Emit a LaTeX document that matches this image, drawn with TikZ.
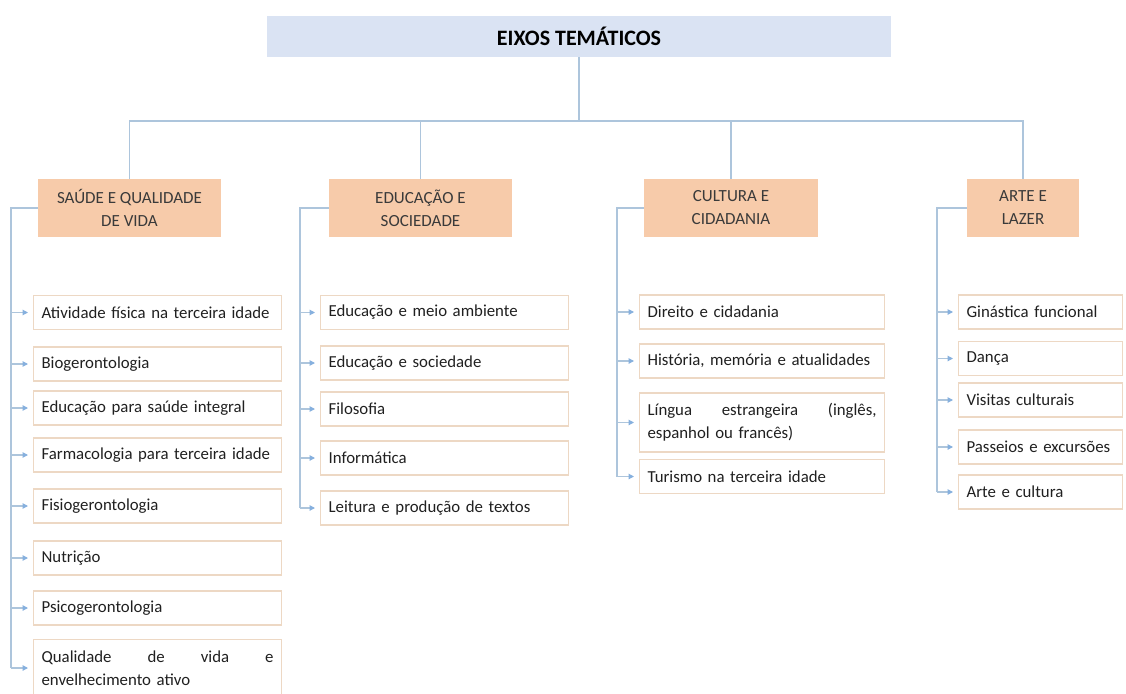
\documentclass[tikz,border=0pt]{standalone}
\usepackage{fontspec}
\setmainfont{Carlito}
\usetikzlibrary{arrows.meta}
\definecolor{connc}{HTML}{ADC5DC}
\definecolor{arrowc}{HTML}{86B0DE}
\definecolor{itemborder}{HTML}{EDD8C4}
\definecolor{catfill}{HTML}{F7CBAA}
\definecolor{topfill}{HTML}{DAE3F3}
\definecolor{txt}{HTML}{202020}
\definecolor{cattxt}{HTML}{3A3A3A}
\tikzset{
  conn/.style={draw=connc, line width=1.1pt},
  arr/.style={draw=connc, line width=1.1pt, -{Triangle[length=5.5pt,width=5.5pt,color=arrowc]}},
  item/.style={draw=itemborder, line width=1.2pt, fill=white, anchor=west,
    inner xsep=8pt, inner ysep=0pt, align=left, text=txt,
    font=\fontsize{16.8}{23}\selectfont, minimum height=34pt},
  cat/.style={fill=catfill, draw=none, align=center, text=cattxt,
    font=\fontsize{17}{23}\selectfont, minimum height=58pt, inner sep=0pt},
  topbox/.style={fill=topfill, draw=none, align=center, text=black,
    font=\fontsize{22}{26}\selectfont\bfseries, minimum width=624pt, minimum height=41pt, inner sep=0pt},
}
\begin{document}
\begin{tikzpicture}[x=1pt,y=-1pt]
\useasboundingbox[fill=white] (0,0) rectangle (1126,693);

% top
\node[topbox] (top) at (579,36.5) {EIXOS TEMÁTICOS};
\coordinate (hub) at (579,121);

% categories
\node[cat, minimum width=183pt] (s) at (129.5,208) {SAÚDE E QUALIDADE\\DE VIDA};
\node[cat, minimum width=183pt] (e) at (420.5,208) {EDUCAÇÃO E\\SOCIEDADE};
\node[cat, minimum width=174pt] (c) at (731,208) {CULTURA E\\CIDADANIA};
\node[cat, minimum width=112pt] (a) at (1023,208) {ARTE E\\LAZER};

\draw[conn] (top.south) -- (hub);
\draw[conn] (s.north) -- (s.north |- hub) -- (a.north |- hub) -- (a.north);
\draw[conn] (e.north) -- (e.north |- hub);
\draw[conn] (c.north) -- (c.north |- hub);

% Saude items
\node[item, text width=232pt] (s1) at (33,312.5) {Atividade física na terceira idade};
\node[item, text width=232pt] (s2) at (33,364) {Biogerontologia};
\node[item, text width=232pt] (s3) at (33,408) {Educação para saúde integral};
\node[item, text width=232pt] (s4) at (33,455) {Farmacologia para terceira idade};
\node[item, text width=232pt] (s5) at (33,506) {Fisiogerontologia};
\node[item, text width=232pt] (s6) at (33,558) {Nutrição};
\node[item, text width=232pt] (s7) at (33,608) {Psicogerontologia};
\node[item, text width=232pt, minimum height=57pt] (s8) at (33,668) {Qualidade\hfill de\hfill vida\hfill e\\envelhecimento ativo};

% Educacao items
\node[item, text width=232pt] (e1) at (320,312.5) {Educação e meio ambiente};
\node[item, text width=232pt] (e2) at (320,363) {Educação e sociedade};
\node[item, text width=232pt] (e3) at (320,409) {Filosofia};
\node[item, text width=232pt] (e4) at (320,458) {Informática};
\node[item, text width=232pt] (e5) at (320,508) {Leitura e produção de textos};

% Cultura items
\node[item, text width=229pt] (c1) at (639,312) {Direito e cidadania};
\node[item, text width=229pt] (c2) at (639,361) {História, memória e atualidades};
\node[item, text width=229pt, minimum height=59pt] (c3) at (639,422.5) {Língua\hfill estrangeira\hfill (inglês,\\espanhol ou francês)};
\node[item, text width=229pt] (c4) at (639,476.5) {Turismo na terceira idade};

% Arte items
\node[item, text width=148pt] (a1) at (958,312) {Ginástica funcional};
\node[item, text width=148pt] (a2) at (958,358.5) {Dança};
\node[item, text width=148pt] (a3) at (958,400) {Visitas culturais};
\node[item, text width=148pt] (a4) at (958,447) {Passeios e excursões};
\node[item, text width=148pt] (a5) at (958,492) {Arte e cultura};

% brackets
\coordinate (sb) at (11,208);
\coordinate (eb) at (300,208);
\coordinate (cb) at (617,208);
\coordinate (ab) at (937,208);
\draw[conn] (s.west) -- (sb) -- (sb |- s8.west);
\draw[conn] (e.west) -- (eb) -- (eb |- e5.west);
\draw[conn] (c.west) -- (cb) -- (cb |- c4.west);
\draw[conn] (a.west) -- (ab) -- (ab |- a5.west);

\foreach \n in {s1,s2,s3,s4,s5,s6,s7,s8}{\draw[arr] (sb |- \n.west) -- ([xshift=-5pt]\n.west);}
\foreach \n in {e1,e2,e3,e4,e5}{\draw[arr] (eb |- \n.west) -- ([xshift=-5pt]\n.west);}
\foreach \n in {c1,c2,c3,c4}{\draw[arr] (cb |- \n.west) -- ([xshift=-5pt]\n.west);}
\foreach \n in {a1,a2,a3,a4,a5}{\draw[arr] (ab |- \n.west) -- ([xshift=-5pt]\n.west);}
\end{tikzpicture}
\end{document}
